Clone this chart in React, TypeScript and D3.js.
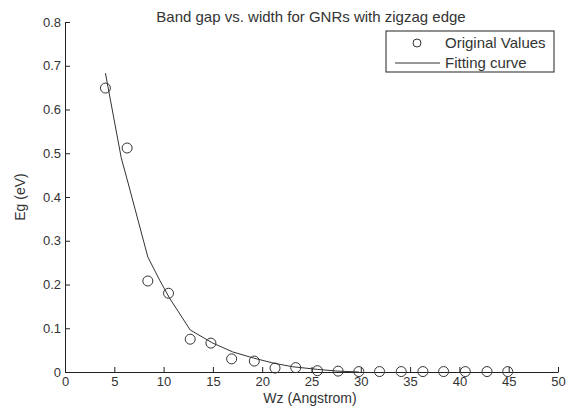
import { useEffect, useRef } from "react";
import * as d3 from "d3";

const W = 575;
const H = 410;
const MARGIN = { top: 22, right: 17, bottom: 38, left: 65 };

// widths (Angstrom) and band gaps (eV)
const widths = [
  4.1, 6.3, 8.4, 10.5, 12.7, 14.8, 16.9, 19.2, 21.3, 23.4, 25.6, 27.7, 29.8,
  31.9, 34.1, 36.3, 38.4, 40.6, 42.8, 44.9,
];
const gaps = [
  0.649, 0.512, 0.208, 0.18, 0.075, 0.066, 0.03, 0.025, 0.009, 0.01, 0.003,
  0.002, 0.001, 0.001, 0.001, 0.001, 0.001, 0.001, 0.001, 0.001,
];
const fitX = [4.1, 5.7, 6.4, 8.4, 9.6, 10.6, 12.7, 15.0, 17.0, 19.1, 21.2, 23.1, 25.6, 27.7, 29.8];
const fitY = [0.683, 0.49, 0.432, 0.263, 0.21, 0.169, 0.096, 0.066, 0.046, 0.032, 0.02, 0.012, 0.006, 0.002, 0.0];

const xTicks = [0, 5, 10, 15, 20, 25, 30, 35, 40, 45, 50];
const yTicks = [0, 0.1, 0.2, 0.3, 0.4, 0.5, 0.6, 0.7, 0.8];

const FONT = "'Liberation Sans', Arial, sans-serif";
const INK = "#333";

const App = () => {
  const ref = useRef(null);

  useEffect(() => {
    const svg = d3.select(ref.current);
    svg.selectAll("*").remove();

    const x = d3.scaleLinear().domain([0, 50]).range([MARGIN.left, W - MARGIN.right]);
    const y = d3.scaleLinear().domain([0, 0.8]).range([H - MARGIN.bottom, MARGIN.top]);

    // axes, ticks point inward like matlab
    const xAxis = svg
      .append("g")
      .attr("transform", `translate(0, ${y(0)})`)
      .call(
        d3.axisBottom(x).tickValues(xTicks).tickSizeInner(-5).tickSizeOuter(0).tickPadding(5).tickFormat(d3.format("d"))
      );
    const yAxis = svg
      .append("g")
      .attr("transform", `translate(${x(0)}, 0)`)
      .call(
        d3.axisLeft(y).tickValues(yTicks).tickSizeInner(-5).tickSizeOuter(0).tickPadding(4).tickFormat((d) => (d === 0 ? "0" : d3.format(".1f")(d)))
      );
    [xAxis, yAxis].forEach((g) => {
      g.selectAll("text").attr("font-family", FONT).attr("font-size", 13).attr("fill", INK);
      g.select(".domain").attr("stroke", "#222");
      g.selectAll(".tick line").attr("stroke", "#222");
    });

    // fitting curve
    const line = d3
      .line<number>()
      .x((d, i) => x(fitX[i]))
      .y((d) => y(d));
    svg
      .append("path")
      .attr("d", line(fitY))
      .attr("fill", "none")
      .attr("stroke", "#333")
      .attr("stroke-width", 1);

    // original values
    svg
      .append("g")
      .selectAll("circle")
      .data(widths)
      .join("circle")
      .attr("cx", (d) => x(d))
      .attr("cy", (d, i) => y(gaps[i]))
      .attr("r", 5)
      .attr("fill", "none")
      .attr("stroke", "#333")
      .attr("stroke-width", 1);

    // title and labels
    svg
      .append("text")
      .attr("x", 311)
      .attr("y", 22)
      .attr("text-anchor", "middle")
      .attr("font-family", FONT)
      .attr("font-size", 15)
      .attr("fill", INK)
      .text("Band gap vs. width for GNRs with zigzag edge");
    svg
      .append("text")
      .attr("x", 310)
      .attr("y", 403)
      .attr("text-anchor", "middle")
      .attr("font-family", FONT)
      .attr("font-size", 14)
      .attr("fill", INK)
      .text("Wz (Angstrom)");
    svg
      .append("text")
      .attr("transform", `translate(25, ${(y(0) + y(0.8)) / 2}) rotate(-90)`)
      .attr("text-anchor", "middle")
      .attr("font-family", FONT)
      .attr("font-size", 14)
      .attr("fill", INK)
      .text("Eg (eV)");

    // legend
    const lg = svg.append("g").attr("transform", "translate(386, 31)");
    lg.append("rect")
      .attr("width", 168)
      .attr("height", 41)
      .attr("fill", "white")
      .attr("stroke", "#222");
    lg.append("circle").attr("cx", 31).attr("cy", 12).attr("r", 4).attr("fill", "none").attr("stroke", "#333");
    lg.append("line").attr("x1", 9).attr("x2", 54).attr("y1", 32).attr("y2", 32).attr("stroke", "#333");
    lg.append("text")
      .attr("x", 59)
      .attr("y", 17)
      .attr("font-family", FONT)
      .attr("font-size", 15)
      .attr("fill", INK)
      .text("Original Values");
    lg.append("text")
      .attr("x", 59)
      .attr("y", 37)
      .attr("font-family", FONT)
      .attr("font-size", 15)
      .attr("fill", INK)
      .text("Fitting curve");
  }, []);

  return (
    <svg
      ref={ref}
      width={W}
      height={H}
      style={{ position: "absolute", left: 0, top: 0, background: "white" }}
    ></svg>
  );
};

export default App;
